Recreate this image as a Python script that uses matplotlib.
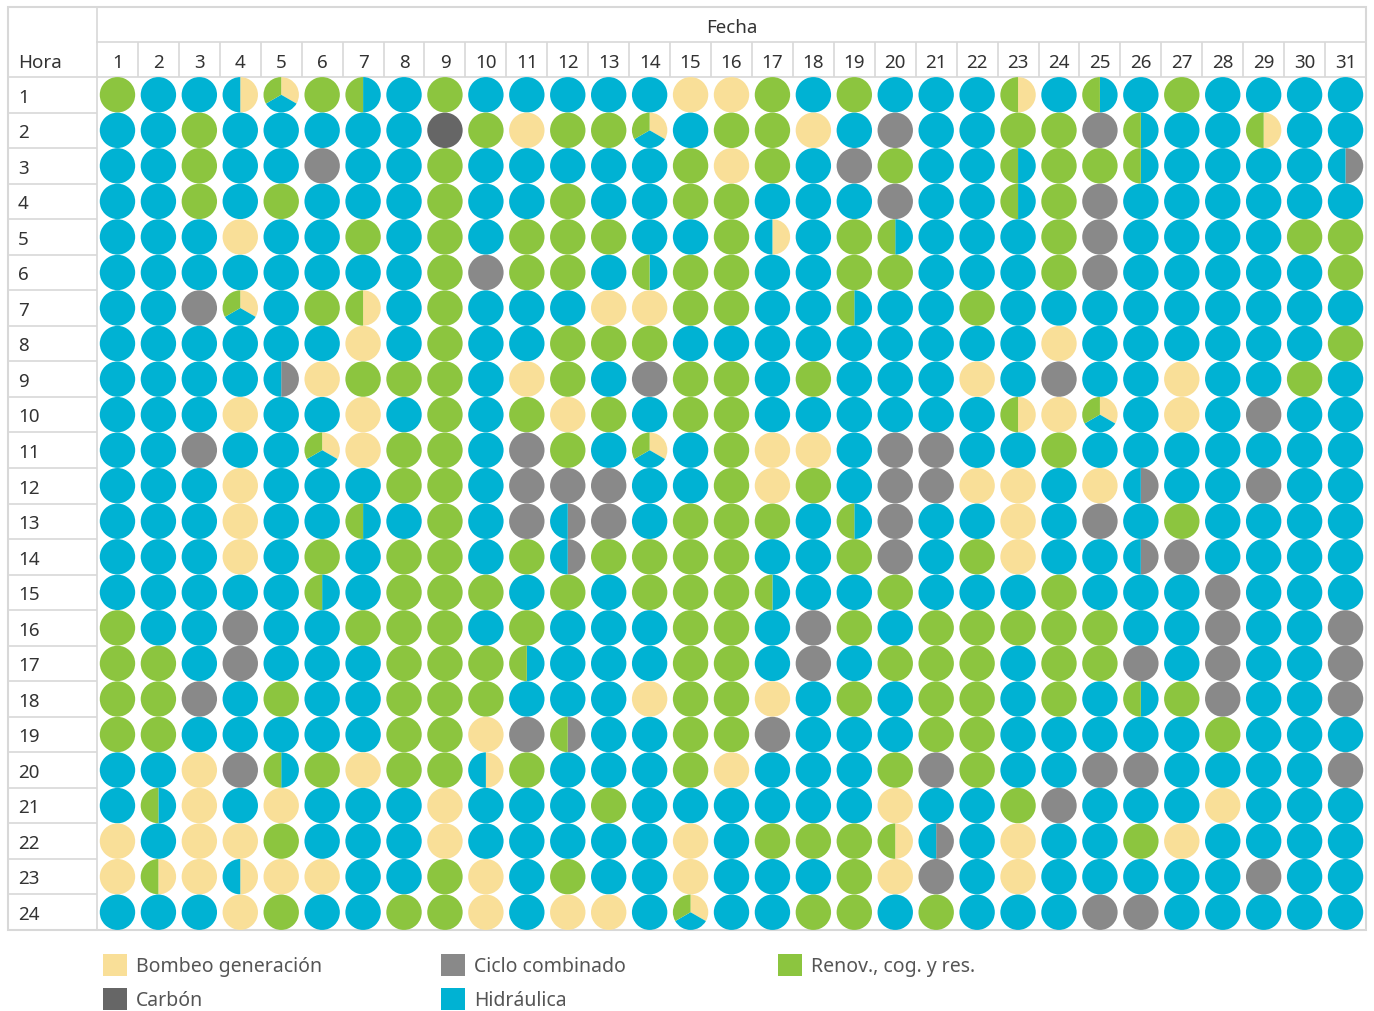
import numpy as np
import matplotlib.pyplot as plt
from matplotlib.patches import Wedge, Rectangle
from matplotlib.transforms import ScaledTranslation, blended_transform_factory

plt.rcParams['font.family'] = ['Noto Sans', 'DejaVu Sans']

# technologies (legend order = pie order, clockwise from 12 o'clock)
techs = ['Bombeo generación', 'Carbón', 'Ciclo combinado', 'Hidráulica', 'Renov., cog. y res.']
codes = ['B', 'K', 'C', 'H', 'R']
colors = ['#F9DF98', '#666666', '#898989', '#00B2D3', '#8CC53F']

days = list(range(1, 32))
hours = list(range(1, 25))

# one string per hour, one token per day; several letters = equal split of the pie
grid_rows = [
    "R H H BH BHR R HR H  R H H H H H B B  R H R H H H BR H  HR H R H H H H",
    "H H R H H H H H  K R B R R BHR H R  R B H C H H R R  C HR H H BR H H",
    "H H R H H C H H  R H H H H H R B  R H C R H H HR R  R HR H H H H CH",
    "H H R H R H H H  R H H R H H R R  H H H C H H HR R  C H H H H H H",
    "H H H B H H R H  R H R R R H H R  BH H R HR H H H R  C H H H H R R",
    "H H H H H H H H  R C R R H HR R R  H H R R H H H R  C H H H H H R",
    "H H C BHR H R BR H  R H H H B B R R  H H HR H H R H H  H H H H H H H",
    "H H H H H H B H  R H H R R R H H  H H H H H H H B  H H H H H H R",
    "H H H H CH B R R  R H B R H C R R  H R H H H B H C  H H B H H R H",
    "H H H B H H B H  R H R B R H R R  H H H H H H BR B  BHR H B H C H H",
    "H H C H H BHR B R  R H C R H BHR H R  B B H C C H H R  H H H H H H H",
    "H H H B H H H R  R H C C C H H R  B R H C C B B H  B CH H H C H H",
    "H H H B H H HR H  R H C CH C H R R  R H HR C H H B H  C H R H H H H",
    "H H H B H R H R  R H R CH R R R R  H H R C H R B H  H CH C H H H H",
    "H H H H H HR H R  R R H R H R R R  HR H H R H H H R  H H H C H H H",
    "R H H C H H R R  R H R H H H R R  H C R H R R R R  R H H C H H C",
    "R R H C H H H R  R R HR H H H R R  H C H R R R H R  R C H C H H C",
    "R R C H R H H R  R R H H H B R R  B H R H R R H R  H HR R C H H C",
    "R R H H H H H R  R B C CR H H R R  C H H H R R H H  H H H R H H H",
    "H H B C HR R B R  R BH R H H H R B  H H H R C R H H  C C H H H H C",
    "H HR B H B H H H  B H H H R H H H  H H H B H H R C  H H H B H H H",
    "B H B B R H H H  B H H H H H B H  R R R BR CH H B H  H R B H H H H",
    "B BR B BH B B H H  R B H R H H B H  H H R B C H B H  H H H H C H H",
    "H H H B R H H R  R B H B B H BHR H  H R R H R H H H  C C H H H H H",
]
cells = [row.split() for row in grid_rows]
color_of = dict(zip(codes, colors))

W, H = 1374, 1012
left, right, top, bottom = 97, 1366, 78, 931
outer_l, outer_t, mid_y = 8, 8, 43
line_c = '#D8D8D8'
txt_c = '#333333'
fs = 13.5

fig = plt.figure(figsize=(W / 100, H / 100), dpi=100)

bg = fig.add_axes([0, 0, 1, 1], zorder=0)
bg.set_xlim(0, W)
bg.set_ylim(H, 0)
bg.axis('off')

ax = fig.add_axes([left / W, 1 - bottom / H, (right - left) / W, (bottom - top) / H], zorder=1)
ax.set_xlim(0.5, len(days) + 0.5)
ax.set_ylim(len(hours) + 0.5, 0.5)
ax.axis('off')

# table frame
bg.add_patch(Rectangle((outer_l, outer_t), right - outer_l, bottom - outer_t,
                       fill=False, edgecolor=line_c, lw=1.5))
bg.plot([left, left], [outer_t, bottom], color=line_c, lw=1.2)
bg.plot([left, right], [mid_y, mid_y], color=line_c, lw=1.2)
bg.plot([outer_l, right], [top, top], color=line_c, lw=1.2)

ax_h = bottom - top
ax_w = right - left
tr_x = blended_transform_factory(ax.transData, ax.transAxes)
tr_y = blended_transform_factory(ax.transAxes, ax.transData)

# header separators between days and between hours
ax.vlines(np.arange(1.5, len(days)), 1, 1 + (top - mid_y) / ax_h, transform=tr_x,
          color=line_c, lw=1.2, clip_on=False)
ax.hlines(np.arange(1.5, len(hours)), (outer_l - left) / ax_w, 0, transform=tr_y,
          color=line_c, lw=1.2, clip_on=False)

for d in days:
    ax.text(d, 1 + (top - 63) / ax_h, str(d), transform=tr_x, ha='center', va='center',
            fontsize=fs, color=txt_c, clip_on=False)
for h in hours:
    ax.text((18 - left) / ax_w, h + 0.05, str(h), transform=tr_y, ha='left', va='center',
            fontsize=fs, color=txt_c, clip_on=False)

bg.text((left + right) / 2, 28, 'Fecha', ha='center', va='center', fontsize=fs, color=txt_c)
bg.text(18, 63, 'Hora', ha='left', va='center', fontsize=fs, color=txt_c)

# pies
r_in = 0.177
for i, h in enumerate(hours):
    for j, d in enumerate(days):
        parts = sorted(cells[i][j], key=codes.index)
        n = len(parts)
        trans = fig.dpi_scale_trans + ScaledTranslation(d, h, ax.transData)
        for k, c in enumerate(parts):
            t1 = 90 - 360 * (k + 1) / n
            t2 = 90 - 360 * k / n
            ax.add_patch(Wedge((0, 0), r_in, t1, t2, facecolor=color_of[c],
                               lw=0, transform=trans, clip_on=False))

# legend
leg_x = [103, 441, 778]
leg_y = [966, 1000]
for k, (name, col) in enumerate(zip(techs, colors)):
    x0 = leg_x[k // 2]
    y0 = leg_y[k % 2]
    bg.add_patch(Rectangle((x0, y0 - 11), 24, 22, facecolor=col, lw=0))
    bg.text(x0 + 33, y0 + 1, name, ha='left', va='center', fontsize=14, color='#555555')

fig.savefig('out.png', dpi=100)
